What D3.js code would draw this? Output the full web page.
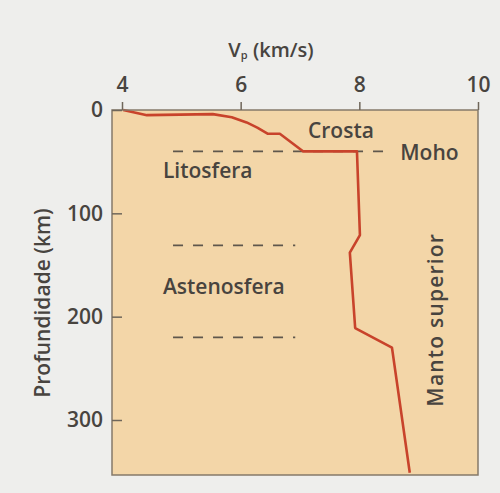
<!DOCTYPE html>
<html>
<head>
<meta charset="utf-8">
<script src="https://cdn.jsdelivr.net/npm/d3@7"></script>
<style>
  body { margin: 0; background: #eeeeec; }
  text { font-family: "Open Sans", sans-serif; fill: #48443f; font-weight: 600; }
</style>
</head>
<body>
<div id="chart"></div>
<script>
const width = 500;
const height = 493;

// P-wave velocity profile (km/s) against depth (km)
const vp    = [4.02, 4.42, 5.53, 5.85, 6.1, 6.28, 6.46, 6.66, 7.05, 7.96, 8.01, 7.84, 7.93, 8.55, 8.85];
const depth = [0,    5,    4,    7,    12,  17,   23,   23,   40,   40,   121,  138,  211,  230,  351];

// dashed boundaries: depth and where each dash run stops
const boundaryDepth = [40, 131, 220];
const boundaryStart = [4.86, 4.86, 4.86];
const boundaryEnd   = [8.52, 6.92, 6.92];

const xTicks = [4, 6, 8, 10];
const yTicks = [0, 100, 200, 300];

const svg = d3.select("#chart")
              .append("svg")
              .attr("width", width)
              .attr("height", height);

svg.append("rect")
   .attr("width", width)
   .attr("height", height)
   .attr("fill", "#eeeeec");

// scales
const x = d3.scaleLinear()
            .domain([4, 10])
            .range([122, 478]);

const y = d3.scaleLinear()
            .domain([0, 300])
            .range([110, 420]);

const panelLeft = 112, panelTop = 110, panelRight = 478, panelBottom = 475;

// plot panel
svg.append("rect")
   .attr("x", panelLeft)
   .attr("y", panelTop)
   .attr("width", panelRight - panelLeft)
   .attr("height", panelBottom - panelTop)
   .attr("fill", "#f3d6a8");

// dashed boundaries
svg.selectAll(".boundary")
   .data(boundaryDepth)
   .enter()
   .append("line")
   .attr("class", "boundary")
   .attr("x1", (d, i) => x(boundaryStart[i]))
   .attr("x2", (d, i) => x(boundaryEnd[i]))
   .attr("y1", d => y(d))
   .attr("y2", d => y(d))
   .attr("stroke", "#5f574c")
   .attr("stroke-width", 1.6)
   .attr("stroke-dasharray", "10,10");

// velocity curve
const line = d3.line()
               .x(d => x(d[0]))
               .y(d => y(d[1]));

svg.append("path")
   .datum(vp.map((v, i) => [v, depth[i]]))
   .attr("d", line)
   .attr("fill", "none")
   .attr("stroke", "#c8432b")
   .attr("stroke-width", 2.6)
   .attr("stroke-linejoin", "round");

// panel border
svg.append("rect")
   .attr("x", panelLeft)
   .attr("y", panelTop)
   .attr("width", panelRight - panelLeft)
   .attr("height", panelBottom - panelTop)
   .attr("fill", "none")
   .attr("stroke", "#857969")
   .attr("stroke-width", 1.5);

// axes
const xAxis = d3.axisTop(x).tickValues(xTicks).tickSize(8).tickPadding(10).tickFormat(d3.format("d"));
const yAxis = d3.axisLeft(y).tickValues(yTicks).tickSize(-10).tickPadding(9).tickFormat(d3.format("d"));

const gx = svg.append("g")
              .attr("transform", "translate(0," + panelTop + ")")
              .call(xAxis);

const gy = svg.append("g")
              .attr("transform", "translate(" + panelLeft + ",0)")
              .call(yAxis);

[gx, gy].forEach(g => {
  g.select(".domain").remove();
  g.selectAll(".tick line").attr("stroke", "#6f665a").attr("stroke-width", 1.5);
  g.selectAll(".tick text")
   .style("font-family", "'Open Sans', sans-serif")
   .style("font-size", "21px")
   .style("font-weight", "600")
   .attr("fill", "#48443f");
});

// axis titles
const xTitle = svg.append("text")
                  .attr("x", 271)
                  .attr("y", 57)
                  .attr("text-anchor", "middle")
                  .style("font-size", "20px");
xTitle.append("tspan").text("V");
xTitle.append("tspan").text("p").style("font-size", "11px").attr("dy", 2);
xTitle.append("tspan").text(" (km/s)").attr("dy", -2);

svg.append("text")
   .text("Profundidade (km)")
   .attr("transform", "translate(50,303) rotate(-90)")
   .attr("text-anchor", "middle")
   .style("font-size", "21px");

// layer labels
svg.append("text")
   .text("Crosta")
   .attr("x", x(7.69))
   .attr("y", y(27))
   .attr("text-anchor", "middle")
   .style("font-size", "21px");

svg.append("text")
   .text("Moho")
   .attr("x", x(8.69))
   .attr("y", y(48))
   .style("font-size", "21px");

svg.append("text")
   .text("Litosfera")
   .attr("x", x(4.69))
   .attr("y", y(66))
   .style("font-size", "21px");

svg.append("text")
   .text("Astenosfera")
   .attr("x", x(4.69))
   .attr("y", y(178))
   .style("font-size", "21px");

svg.append("text")
   .text("Manto superior")
   .attr("transform", "translate(" + x(9.41) + "," + y(203) + ") rotate(-90)")
   .attr("text-anchor", "middle")
   .style("font-size", "21px")
   .style("letter-spacing", "1.2px");
</script>
</body>
</html>
